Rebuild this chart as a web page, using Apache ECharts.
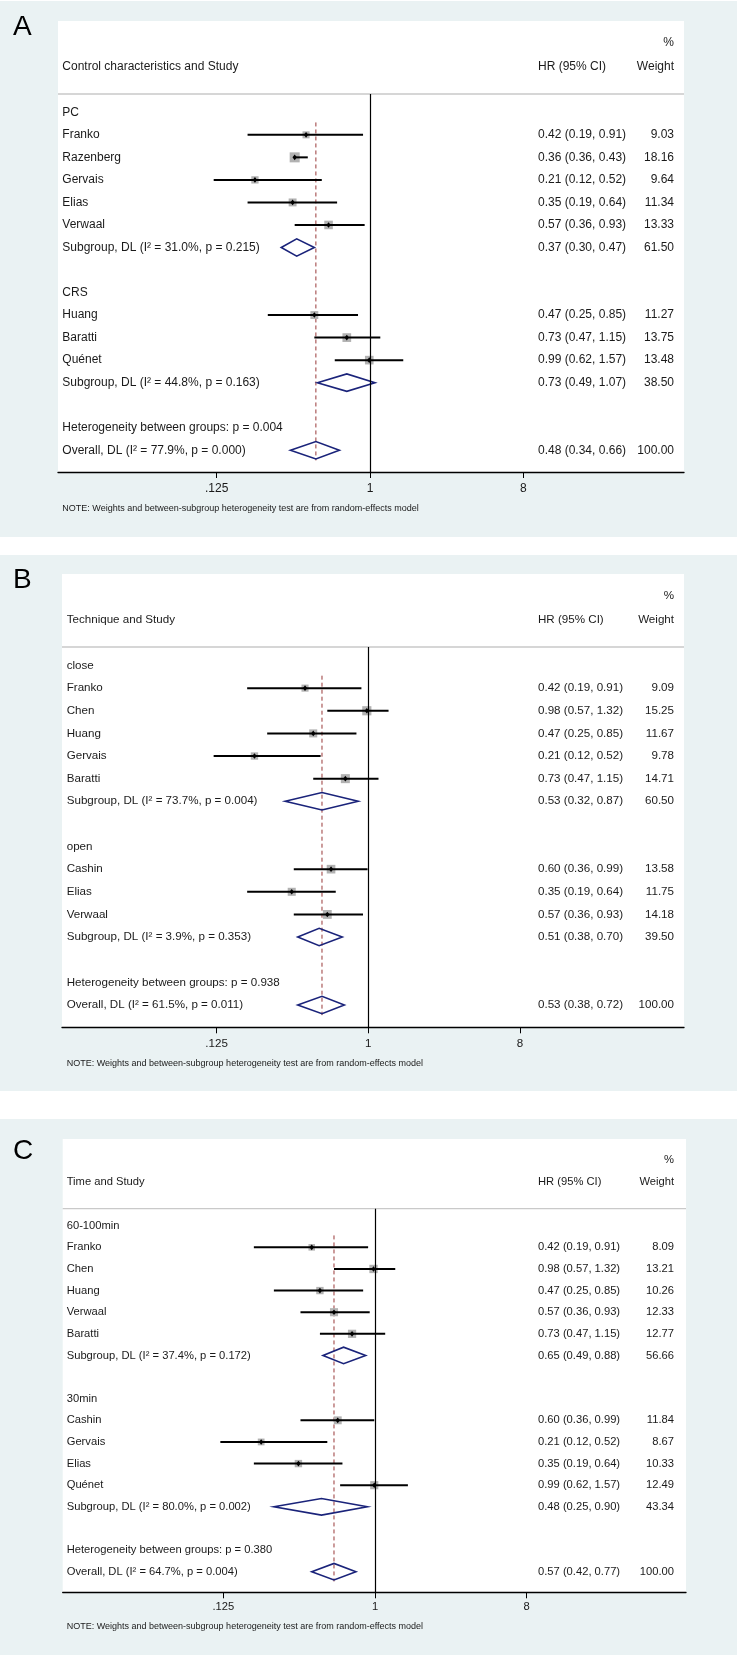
<!DOCTYPE html>
<html>
<head>
<meta charset="utf-8">
<script src="https://cdn.jsdelivr.net/npm/echarts@6/dist/echarts.min.js"></script>
<style>html,body{margin:0;padding:0;background:#fff}#chart{width:742px;height:1655px}</style>
</head>
<body>
<div id="chart"></div>
<script>
// ================= DATA =================
const tickValues = [0.125, 1, 8];
const tickLabels = ['.125', '1', '8'];
const noteText = 'NOTE: Weights and between-subgroup heterogeneity test are from random-effects model';
const colHR = 'HR (95% CI)';
const colPct = '%';
const colWeight = 'Weight';

// Panel A
const aTitle = 'Control characteristics and Study';
const aLabels = ['PC', 'Franko', 'Razenberg', 'Gervais', 'Elias', 'Verwaal',
  'Subgroup, DL (I² = 31.0%, p = 0.215)', '', 'CRS', 'Huang', 'Baratti', 'Quénet',
  'Subgroup, DL (I² = 44.8%, p = 0.163)', '', 'Heterogeneity between groups: p = 0.004',
  'Overall, DL (I² = 77.9%, p = 0.000)'];
const aKinds = ['h', 's', 's', 's', 's', 's', 'd', '', 'h', 's', 's', 's', 'd', '', 'h', 'o'];
const aEst = [null, 0.42, 0.36, 0.21, 0.35, 0.57, 0.37, null, null, 0.47, 0.73, 0.99, 0.73, null, null, 0.48];
const aLo = [null, 0.19, 0.36, 0.12, 0.19, 0.36, 0.30, null, null, 0.25, 0.47, 0.62, 0.49, null, null, 0.34];
const aHi = [null, 0.91, 0.43, 0.52, 0.64, 0.93, 0.47, null, null, 0.85, 1.15, 1.57, 1.07, null, null, 0.66];
const aWeight = [null, 9.03, 18.16, 9.64, 11.34, 13.33, 61.50, null, null, 11.27, 13.75, 13.48, 38.50, null, null, 100.00];

// Panel B
const bTitle = 'Technique and Study';
const bLabels = ['close', 'Franko', 'Chen', 'Huang', 'Gervais', 'Baratti',
  'Subgroup, DL (I² = 73.7%, p = 0.004)', '', 'open', 'Cashin', 'Elias', 'Verwaal',
  'Subgroup, DL (I² = 3.9%, p = 0.353)', '', 'Heterogeneity between groups: p = 0.938',
  'Overall, DL (I² = 61.5%, p = 0.011)'];
const bKinds = ['h', 's', 's', 's', 's', 's', 'd', '', 'h', 's', 's', 's', 'd', '', 'h', 'o'];
const bEst = [null, 0.42, 0.98, 0.47, 0.21, 0.73, 0.53, null, null, 0.60, 0.35, 0.57, 0.51, null, null, 0.53];
const bLo = [null, 0.19, 0.57, 0.25, 0.12, 0.47, 0.32, null, null, 0.36, 0.19, 0.36, 0.38, null, null, 0.38];
const bHi = [null, 0.91, 1.32, 0.85, 0.52, 1.15, 0.87, null, null, 0.99, 0.64, 0.93, 0.70, null, null, 0.72];
const bWeight = [null, 9.09, 15.25, 11.67, 9.78, 14.71, 60.50, null, null, 13.58, 11.75, 14.18, 39.50, null, null, 100.00];

// Panel C
const cTitle = 'Time and Study';
const cLabels = ['60-100min', 'Franko', 'Chen', 'Huang', 'Verwaal', 'Baratti',
  'Subgroup, DL (I² = 37.4%, p = 0.172)', '', '30min', 'Cashin', 'Gervais', 'Elias', 'Quénet',
  'Subgroup, DL (I² = 80.0%, p = 0.002)', '', 'Heterogeneity between groups: p = 0.380',
  'Overall, DL (I² = 64.7%, p = 0.004)'];
const cKinds = ['h', 's', 's', 's', 's', 's', 'd', '', 'h', 's', 's', 's', 's', 'd', '', 'h', 'o'];
const cEst = [null, 0.42, 0.98, 0.47, 0.57, 0.73, 0.65, null, null, 0.60, 0.21, 0.35, 0.99, 0.48, null, null, 0.57];
const cLo = [null, 0.19, 0.57, 0.25, 0.36, 0.47, 0.49, null, null, 0.36, 0.12, 0.19, 0.62, 0.25, null, null, 0.42];
const cHi = [null, 0.91, 1.32, 0.85, 0.93, 1.15, 0.88, null, null, 0.99, 0.52, 0.64, 1.57, 0.90, null, null, 0.77];
const cWeight = [null, 8.09, 13.21, 10.26, 12.33, 12.77, 56.66, null, null, 11.84, 8.67, 10.33, 12.49, 43.34, null, null, 100.00];

// ================= LAYOUT / STYLE =================
const FONT = '"Liberation Sans", Arial, Helvetica, sans-serif';
const TXT = '#1a1a1a';
const BG = '#eaf2f3';
const NAVY = '#1a237a';
const MAROON = '#983838';
const BOX = '#b2b2b2';
const W = 742;

const panels = [
  { letter: 'A', title: aTitle, labels: aLabels, kinds: aKinds, est: aEst, lo: aLo, hi: aHi, weight: aWeight,
    bgTop: 1, bgBot: 537, boxL: 58, boxT: 21, boxR: 684, boxB: 472, sep: 94,
    letterY: 27, pctY: 43, headY: 67, row0: 112.3, dy: 22.53, one: 370, ppd: 51.1,
    textX: 62.3, hrX: 538, wR: 674, font: 12, noteY: 509, labelMargin: 11, diaH: 8.7, boxK: 2.35 },
  { letter: 'B', title: bTitle, labels: bLabels, kinds: bKinds, est: bEst, lo: bLo, hi: bHi, weight: bWeight,
    bgTop: 555, bgBot: 1091, boxL: 62, boxT: 574, boxR: 684, boxB: 1027.3, sep: 647,
    letterY: 580, pctY: 596, headY: 620, row0: 665.5, dy: 22.63, one: 368.3, ppd: 50.56,
    textX: 66.7, hrX: 538, wR: 674, font: 11.6, noteY: 1064, labelMargin: 10.5, diaH: 8.7, boxK: 2.35 },
  { letter: 'C', title: cTitle, labels: cLabels, kinds: cKinds, est: cEst, lo: cLo, hi: cHi, weight: cWeight,
    bgTop: 1119, bgBot: 1655, boxL: 62.7, boxT: 1139, boxR: 686, boxB: 1592.3, sep: 1208.7,
    letterY: 1151, pctY: 1160, headY: 1182, row0: 1225.7, dy: 21.625, one: 375, ppd: 50.56,
    textX: 66.7, hrX: 538, wR: 674, font: 11.2, noteY: 1626.7, labelMargin: 9.5, diaH: 8.3, boxK: 2.3 }
];

function fmtHR(e, l, h) { return e.toFixed(2) + ' (' + l.toFixed(2) + ', ' + h.toFixed(2) + ')'; }

function makeRender(P) {
  return function (params, api) {
    const i = params.dataIndex;
    const kind = P.kinds[i];
    const y = api.coord([1, i])[1];
    const font = P.font + 'px ' + FONT;
    const ch = [];
    if (P.labels[i]) {
      ch.push({ type: 'text', x: P.textX, y: y, style: { text: P.labels[i], font: font, fill: TXT, align: 'left', verticalAlign: 'middle' } });
    }
    if (kind === 's' || kind === 'd' || kind === 'o') {
      const xe = api.coord([P.est[i], i])[0];
      const xl = api.coord([P.lo[i], i])[0];
      const xh = api.coord([P.hi[i], i])[0];
      if (kind === 's') {
        const side = P.boxK * Math.sqrt(P.weight[i]);
        ch.push({ type: 'rect', shape: { x: xe - side / 2, y: y - side / 2, width: side, height: side }, style: { fill: BOX } });
        ch.push({ type: 'line', shape: { x1: xl, y1: y, x2: xh, y2: y }, style: { stroke: '#000', lineWidth: 2 } });
        ch.push({ type: 'polygon', shape: { points: [[xe - 2.2, y], [xe, y - 2.8], [xe + 2.2, y], [xe, y + 2.8]] }, style: { fill: '#000' } });
      } else {
        const h = P.diaH;
        ch.push({ type: 'polygon', shape: { points: [[xl, y], [xe, y - h], [xh, y], [xe, y + h]] }, style: { fill: 'none', stroke: NAVY, lineWidth: 1.6 } });
      }
      ch.push({ type: 'text', x: P.hrX, y: y, style: { text: fmtHR(P.est[i], P.lo[i], P.hi[i]), font: font, fill: TXT, align: 'left', verticalAlign: 'middle' } });
      ch.push({ type: 'text', x: P.wR, y: y, style: { text: P.weight[i].toFixed(2), font: font, fill: TXT, align: 'right', verticalAlign: 'middle' } });
    }
    return { type: 'group', children: ch };
  };
}

const grids = [], xAxes = [], yAxes = [], series = [], graphics = [];

panels.forEach(function (P, k) {
  grids.push({ left: P.boxL, top: P.sep, width: P.boxR - P.boxL, height: P.boxB - P.sep, containLabel: false });
  const xmin = Math.pow(2, (P.boxL - P.one) / P.ppd);
  const xmax = Math.pow(2, (P.boxR - P.one) / P.ppd);
  xAxes.push({
    type: 'log', logBase: 2, gridIndex: k, min: xmin, max: xmax,
    axisLine: { show: true, onZero: false, lineStyle: { color: '#000', width: 1.3 } },
    axisTick: { show: true, customValues: tickValues, length: 6, inside: false, lineStyle: { color: '#000', width: 1 } },
    axisLabel: {
      customValues: tickValues, margin: P.labelMargin, fontSize: P.font, fontFamily: FONT, color: TXT,
      formatter: function (v) {
        for (let j = 0; j < tickValues.length; j++) if (Math.abs(v - tickValues[j]) < 1e-6) return tickLabels[j];
        return '';
      }
    },
    splitLine: { show: false }, minorTick: { show: false }
  });
  const n = P.labels.length;
  yAxes.push({
    type: 'value', gridIndex: k, inverse: true,
    min: (P.sep - P.row0) / P.dy, max: (P.boxB - P.row0) / P.dy,
    show: false, splitLine: { show: false }
  });
  const ovIdx = P.kinds.indexOf('o');
  series.push({
    type: 'custom', xAxisIndex: k, yAxisIndex: k, clip: false, z: 3,
    renderItem: makeRender(P),
    data: P.labels.map(function (_, i) { return [1, i]; }),
    encode: { x: 0, y: 1 },
    markLine: {
      silent: true, symbol: 'none', label: { show: false },
      lineStyle: { color: '#000', width: 1.2, type: 'solid' },
      data: [{ xAxis: 1 }]
    }
  });
  series.push({
    type: 'line', xAxisIndex: k, yAxisIndex: k, symbol: 'none', silent: true, z: 2,
    lineStyle: { color: MAROON, width: 1, type: [4, 3] },
    data: [[P.est[ovIdx], 0.45], [P.est[ovIdx], ovIdx + 0.45]]
  });

  // background + plot box
  graphics.push({ type: 'rect', z: -100, shape: { x: 0, y: P.bgTop, width: 737, height: P.bgBot - P.bgTop }, style: { fill: BG } });
  graphics.push({ type: 'rect', z: -90, shape: { x: P.boxL, y: P.boxT, width: P.boxR - P.boxL, height: P.boxB - P.boxT }, style: { fill: '#fff' } });
  graphics.push({ type: 'line', z: -80, shape: { x1: P.boxL, y1: P.sep, x2: P.boxR, y2: P.sep }, style: { stroke: '#c9c9c9', lineWidth: 1.3 } });
  graphics.push({ type: 'text', z: 10, x: 13, y: P.letterY, style: { text: P.letter, font: '28px ' + FONT, fill: '#000', align: 'left', verticalAlign: 'middle' } });
  graphics.push({ type: 'text', z: 10, x: P.textX, y: P.headY, style: { text: P.title, font: P.font + 'px ' + FONT, fill: TXT, align: 'left', verticalAlign: 'middle' } });
  graphics.push({ type: 'text', z: 10, x: P.hrX, y: P.headY, style: { text: colHR, font: P.font + 'px ' + FONT, fill: TXT, align: 'left', verticalAlign: 'middle' } });
  graphics.push({ type: 'text', z: 10, x: P.wR, y: P.headY, style: { text: colWeight, font: P.font + 'px ' + FONT, fill: TXT, align: 'right', verticalAlign: 'middle' } });
  graphics.push({ type: 'text', z: 10, x: P.wR, y: P.pctY, style: { text: colPct, font: P.font + 'px ' + FONT, fill: TXT, align: 'right', verticalAlign: 'middle' } });
  graphics.push({ type: 'text', z: 10, x: P.textX, y: P.noteY, style: { text: noteText, font: '9px ' + FONT, fill: TXT, align: 'left', verticalAlign: 'middle' } });
});

const chart = echarts.init(document.getElementById('chart'), null, { renderer: 'canvas', width: 742, height: 1655 });
chart.setOption({
  backgroundColor: '#ffffff',
  animation: false,
  grid: grids,
  xAxis: xAxes,
  yAxis: yAxes,
  graphic: { elements: graphics },
  series: series
});
</script>
</body>
</html>
